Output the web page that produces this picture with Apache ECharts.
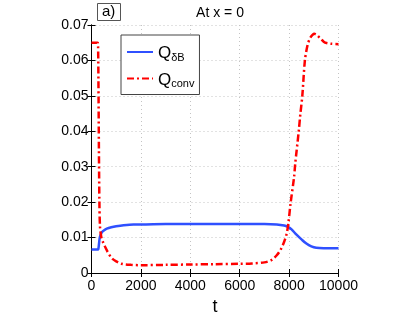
<!DOCTYPE html>
<html>
<head>
<meta charset="utf-8">
<script src="https://cdn.jsdelivr.net/npm/echarts@6/dist/echarts.min.js"></script>
<style>html,body{margin:0;padding:0;background:#fff;}#c{width:415px;height:313px;}</style>
</head>
<body>
<div id="c"></div>
<script>
// Data
var tB = [0, 250, 275, 300, 330, 370, 420, 500, 620, 800, 1000, 1300, 1700, 2000, 3000, 4000, 5000, 6000, 7000, 7500, 7800, 7950, 8100, 8300, 8500, 8700, 8900, 9100, 9400, 10000];
var qB = [0.0066, 0.0066, 0.0067, 0.0080, 0.0098, 0.0108, 0.0115, 0.0120, 0.0125, 0.0129, 0.0132, 0.0135, 0.0137, 0.0137, 0.0138, 0.0138, 0.0138, 0.0138, 0.0138, 0.0137, 0.0134, 0.0130, 0.0123, 0.0108, 0.0095, 0.0083, 0.0075, 0.0071, 0.0070, 0.0070];

var tC = [0, 250, 265, 280, 300, 320, 345, 400, 480, 550, 650, 820, 1000, 1220, 1600, 2000, 3000, 4000, 5000, 6000, 6500, 7000, 7300, 7500, 7650, 7800, 7900, 7970, 8060, 8200, 8250, 8390, 8450, 8535, 8640, 8750, 8850, 8950, 9020, 9100, 9250, 9400, 9520, 9700, 10000];
var qC = [0.0650, 0.0650, 0.0645, 0.0550, 0.0350, 0.0200, 0.0130, 0.0100, 0.0085, 0.0074, 0.0060, 0.0042, 0.0033, 0.0026, 0.0023, 0.0022, 0.0023, 0.0024, 0.0025, 0.0026, 0.0027, 0.0030, 0.0037, 0.0050, 0.0065, 0.0088, 0.0110, 0.0140, 0.0197, 0.0270, 0.0310, 0.0400, 0.0445, 0.0500, 0.0600, 0.0644, 0.0663, 0.0672, 0.0675, 0.0673, 0.0663, 0.0653, 0.0649, 0.0647, 0.0646];

var xTicks = [0, 2000, 4000, 6000, 8000, 10000];
var yTicks = [0, 0.01, 0.02, 0.03, 0.04, 0.05, 0.06, 0.07];

function pairs(t, q) { return t.map(function (v, i) { return [v, q[i]]; }); }

var FONT = 'Liberation Sans, Arial, Helvetica, sans-serif';
var chart = echarts.init(document.getElementById('c'), null, { renderer: 'canvas' });

var gridLine = { show: true, lineStyle: { color: '#c4c4c4', type: [1, 3], width: 1 } };

chart.setOption({
  animation: false,
  backgroundColor: '#fff',
  title: [
    { text: 'At x = 0', left: 215, textAlign: 'center', top: 1,
      textStyle: { fontFamily: FONT, fontSize: 14, fontWeight: 'normal', color: '#000' } },
    { text: 'a)', left: 97, top: 3, padding: [1, 5, 1, 5], borderColor: '#555', borderWidth: 1,
      textStyle: { fontFamily: FONT, fontSize: 15, fontWeight: 'normal', color: '#000', lineHeight: 16 } }
  ],
  grid: { left: 91.5, right: 76.5, top: 25, bottom: 40, containLabel: false, outerBoundsMode: 'none' },
  legend: {
    orient: 'vertical', left: 121, top: 35,
    padding: [9, 5, 5, 5], itemGap: 7.5, itemWidth: 26, itemHeight: 20,
    borderColor: '#444', borderWidth: 1, backgroundColor: '#fff',
    itemStyle: { opacity: 0 },
    lineStyle: { width: 2 },
    formatter: function (name) {
      return name === 'dB' ? '{q|Q}{s|δB}' : '{q|Q}{s|conv}';
    },
    textStyle: {
      fontFamily: FONT, color: '#000',
      rich: {
        q: { fontSize: 17, lineHeight: 20, verticalAlign: 'bottom', fontFamily: FONT, color: '#000' },
        s: { fontSize: 11, lineHeight: 12, verticalAlign: 'bottom', fontFamily: FONT, color: '#000', padding: [0, 0, -1, 0] }
      }
    }
  },
  xAxis: [
    { type: 'value', min: 0, max: 10000, interval: 2000, position: 'bottom',
      name: 't', nameLocation: 'middle', nameGap: 21,
      nameTextStyle: { fontFamily: FONT, fontSize: 18, color: '#000' },
      axisLine: { show: true, lineStyle: { color: '#000', width: 1 } },
      axisTick: { show: true, inside: true, length: 4, lineStyle: { color: '#000' } },
      axisLabel: { fontFamily: FONT, fontSize: 14, color: '#000', margin: 6,
        formatter: function (v) { return xTicks.indexOf(v) >= 0 ? String(v) : ''; } },
      splitLine: gridLine },
    { type: 'value', min: 0, max: 10000, interval: 2000, position: 'top',
      axisLine: { show: true, lineStyle: { color: '#000', width: 1 } },
      axisTick: { show: true, inside: true, length: 4, lineStyle: { color: '#000' } },
      axisLabel: { show: false }, splitLine: { show: false } }
  ],
  yAxis: [
    { type: 'value', min: 0, max: 0.07, interval: 0.01, position: 'left',
      axisLine: { show: true, lineStyle: { color: '#000', width: 1 } },
      axisTick: { show: true, inside: true, length: 4, lineStyle: { color: '#000' } },
      axisLabel: { fontFamily: FONT, fontSize: 14, color: '#000', margin: 3,
        formatter: function (v) {
          var r = Math.round(v * 100) / 100;
          return r === 0 ? '0' : r.toFixed(2);
        } },
      splitLine: gridLine },
    { type: 'value', min: 0, max: 0.07, interval: 0.01, position: 'right',
      axisLine: { show: true, lineStyle: { color: '#000', width: 1 } },
      axisTick: { show: true, inside: true, length: 4, lineStyle: { color: '#000' } },
      axisLabel: { show: false }, splitLine: { show: false } }
  ],
  series: [
    { name: 'dB', type: 'line', data: pairs(tB, qB), xAxisIndex: 0, yAxisIndex: 0,
      showSymbol: false, symbol: 'none', smooth: 0.3, clip: true,
      lineStyle: { color: '#2f50ff', width: 2.5 }, itemStyle: { color: '#2f50ff' } },
    { name: 'conv', type: 'line', data: pairs(tC, qC), xAxisIndex: 0, yAxisIndex: 0,
      showSymbol: false, symbol: 'none', smooth: 0.3, clip: true,
      lineStyle: { color: '#ff0000', width: 2.5, type: [7, 3, 2, 3] }, itemStyle: { color: '#ff0000' } }
  ]
});
</script>
</body>
</html>
